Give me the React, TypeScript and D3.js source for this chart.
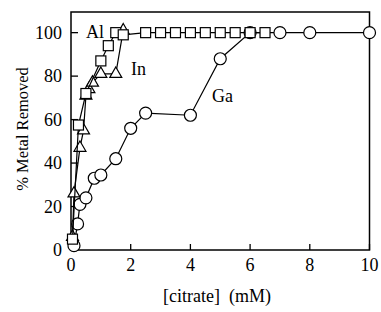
import React from 'react';
import * as d3 from 'd3';

// [citrate] mM vs % metal removed
const alX = [0.05, 0.25, 0.5, 1.0, 1.25, 1.5, 1.75, 2.5, 3.0, 3.5, 4.0, 4.5, 5.0, 5.5, 6.0, 6.5];
const alY = [5, 57.5, 72, 87, 94, 100, 99, 100, 100, 100, 100, 100, 100, 100, 100, 100];
const inX = [0.05, 0.1, 0.3, 0.42, 0.5, 0.6, 0.72, 1.0, 1.5, 1.75];
const inY = [6, 26, 47, 55, 71, 74, 77, 81, 81, 101];
const gaX = [0.1, 0.22, 0.3, 0.5, 0.78, 1.0, 1.5, 2.0, 2.5, 4.0, 5.0, 6.0, 7.0, 8.0, 10.0];
const gaY = [2, 12, 21, 24, 33, 34.5, 42, 56, 63, 62, 88, 100, 100, 100, 100];
const xTicks = [0, 2, 4, 6, 8, 10];
const yTicks = [0, 20, 40, 60, 80, 100];

const W = 381;
const H = 312;
const left = 71, right = 369.5, top = 12, bottom = 250;
const font = "'Liberation Serif', 'Times New Roman', 'DejaVu Serif', serif";

export default function App() {
  const x = d3.scaleLinear().domain([0, 10]).range([left, right]);
  const y = d3.scaleLinear().domain([0, 109.5]).range([bottom, top]);
  const line = d3.line<[number, number]>().x(d => x(d[0])).y(d => y(d[1]));

  const al = alX.map((v, i) => [v, alY[i]] as [number, number]);
  const ind = inX.map((v, i) => [v, inY[i]] as [number, number]);
  const ga = gaX.map((v, i) => [v, gaY[i]] as [number, number]);
  const tri = d3.symbol().type(d3.symbolTriangle).size(62)() as string;

  return (
    <div style={{ position: 'absolute', left: 0, top: 0 }}>
      <svg width={W} height={H} style={{ display: 'block', background: '#fff', fontFamily: font }}>
        {/* frame */}
        <rect x={left} y={top} width={right - left} height={bottom - top}
          fill="none" stroke="#000" strokeWidth={1.5} />
        {xTicks.map(t => (
          <g key={'x' + t}>
            <line x1={x(t)} x2={x(t)} y1={bottom} y2={bottom - 6} stroke="#000" strokeWidth={1.3} />
            <text x={x(t)} y={271} textAnchor="middle" style={{ fontFamily: font }} fontSize={18}>{t}</text>
          </g>
        ))}
        {yTicks.map(t => (
          <g key={'y' + t}>
            <line x1={left} x2={left + 7} y1={y(t)} y2={y(t)} stroke="#000" strokeWidth={1.3} />
            <text x={62} y={y(t)} dy="0.35em" textAnchor="end" style={{ fontFamily: font }} fontSize={18}>{t}</text>
          </g>
        ))}
        <text x={217} y={302} textAnchor="middle" fontSize={18} style={{ whiteSpace: 'pre', fontFamily: font }}>
          {'[citrate]  (mM)'}
        </text>
        <text transform="translate(28,129) rotate(-90)" textAnchor="middle"
          style={{ fontFamily: font }} fontSize={16.5}>% Metal Removed</text>

        {/* Ga */}
        <path d={line(ga) || ''} fill="none" stroke="#000" strokeWidth={1.2} />
        {ga.map((d, i) => (
          <circle key={'g' + i} cx={x(d[0])} cy={y(d[1])} r={6} fill="#fff" stroke="#000" strokeWidth={1.2} />
        ))}
        {/* In */}
        <path d={line(ind) || ''} fill="none" stroke="#000" strokeWidth={1.2} />
        {ind.map((d, i) => (
          <path key={'i' + i} d={tri} transform={`translate(${x(d[0])},${y(d[1])})`}
            fill="#fff" stroke="#000" strokeWidth={1.2} />
        ))}
        {/* Al */}
        <path d={line(al) || ''} fill="none" stroke="#000" strokeWidth={1.2} />
        {al.map((d, i) => (
          <rect key={'a' + i} x={x(d[0]) - 5} y={y(d[1]) - 5} width={10} height={10}
            fill="#fff" stroke="#000" strokeWidth={1.2} />
        ))}

        <text x={86} y={38} style={{ fontFamily: font }} fontSize={18}>Al</text>
        <text x={131} y={75} style={{ fontFamily: font }} fontSize={18}>In</text>
        <text x={212} y={102} style={{ fontFamily: font }} fontSize={18}>Ga</text>
      </svg>
    </div>
  );
}
